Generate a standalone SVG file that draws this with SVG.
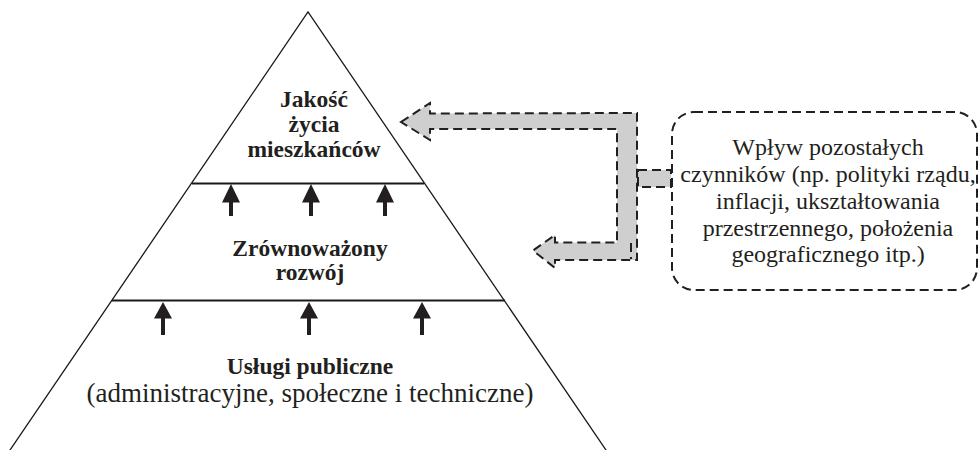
<svg xmlns="http://www.w3.org/2000/svg" width="980" height="450" viewBox="0 0 980 450">
<style>
.edge{stroke:#1a1a1a;stroke-width:1.3;fill:none}
.level{stroke:#1a1a1a;stroke-width:2;fill:none}
.b{font-weight:bold;font-size:23.5px}
.r{font-size:27px}
.rb{font-size:24px}
.blk{fill:#231f20}
.flow{fill:#cfcfcf;stroke:#231f20;stroke-width:2;stroke-dasharray:9 5}
.dash{fill:none;stroke:#231f20;stroke-width:2;stroke-dasharray:9 5}
</style>
<rect width="980" height="450" fill="#ffffff"/>
<g id="pyramid">
<path class="edge" d="M8,453 L308,12 L608,453"/>
<line class="level" x1="192" y1="183.5" x2="424" y2="183.5"/>
<line class="level" x1="112" y1="300.5" x2="505" y2="300.5"/>
</g>
<g id="node-jakosc" font-family="Liberation Serif, Times New Roman, serif" fill="#231f20" text-anchor="middle">
<text class="b" x="314" y="106.5">Jakość</text>
<text class="b" x="314" y="131.7">życia</text>
<text class="b" x="314" y="156.7">mieszkańców</text>
</g>
<g id="node-rozwoj" font-family="Liberation Serif, Times New Roman, serif" fill="#231f20" text-anchor="middle">
<text class="b" x="310" y="256">Zrównoważony</text>
<text class="b" x="310" y="280">rozwój</text>
</g>
<g id="node-uslugi" font-family="Liberation Serif, Times New Roman, serif" fill="#231f20" text-anchor="middle">
<text class="b" x="310" y="373.5">Usługi publiczne</text>
<text class="r" x="310" y="401.5">(administracyjne, społeczne i techniczne)</text>
</g>
<g id="node-czynniki" font-family="Liberation Serif, Times New Roman, serif" fill="#231f20" text-anchor="middle">
<rect class="dash" x="672" y="112" width="305" height="178" rx="22" ry="22"/>
<text class="rb" x="828" y="155">Wpływ pozostałych</text>
<text class="rb" x="828" y="182">czynników (np. polityki rządu,</text>
<text class="rb" x="828" y="209">inflacji, ukształtowania</text>
<text class="rb" x="828" y="236">przestrzennego, położenia</text>
<text class="rb" x="828" y="262">geograficznego itp.)</text>
</g>
<g id="connectors">
<g id="up-arrows-top">
<path class="blk" d="M231,184 L240,202.5 L233,202.5 L233,216 L229,216 L229,202.5 L222,202.5 Z"/>
<path class="blk" d="M311,184 L320,202.5 L313,202.5 L313,216 L309,216 L309,202.5 L302,202.5 Z"/>
<path class="blk" d="M385,184 L394,202.5 L387,202.5 L387,216 L383,216 L383,202.5 L376,202.5 Z"/>
</g>
<g id="up-arrows-bottom">
<path class="blk" d="M163,302 L172,318.5 L165,318.5 L165,335 L161,335 L161,318.5 L154,318.5 Z"/>
<path class="blk" d="M309,302 L318,318.5 L311,318.5 L311,335 L307,335 L307,318.5 L300,318.5 Z"/>
<path class="blk" d="M422,302 L431,318.5 L424,318.5 L424,335 L420,335 L420,318.5 L413,318.5 Z"/>
</g>
<g id="influence">
<path class="flow" d="M638,170 L671,170 L671,187 L638,187 Z"/>
<path class="flow" d="M401,122 L430,103 L430,113.5 L637,113 L637,260 L555,260 L555,268 L533,250.5 L555,235 L555,242.5 L617,242.5 L617,129 L430,129 L430,140 Z"/>
<line class="dash" x1="631" y1="243" x2="631" y2="259"/>
</g>
</g>
</svg>
